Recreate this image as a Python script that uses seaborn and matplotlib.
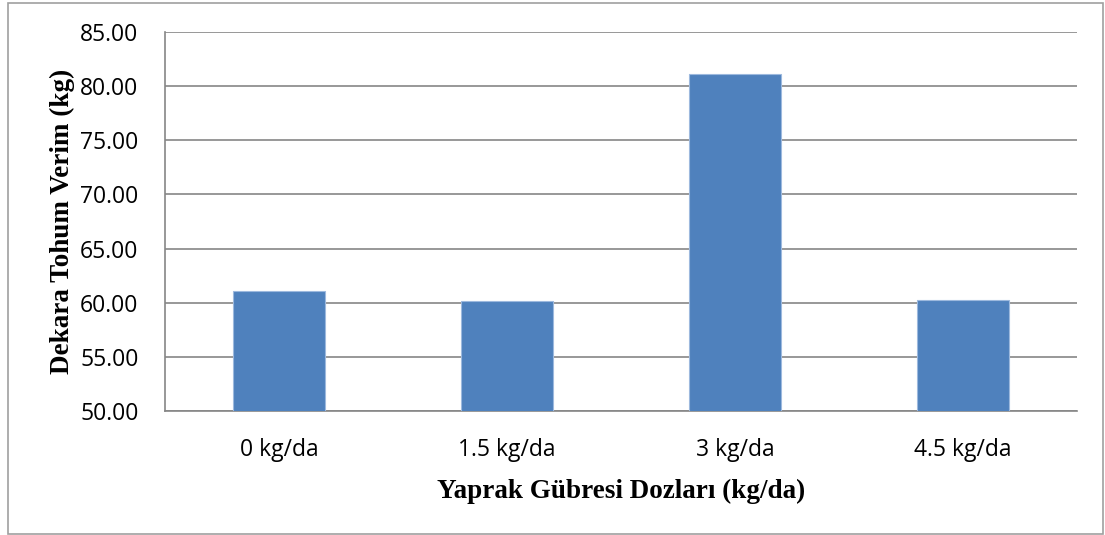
import matplotlib
matplotlib.use('Agg')
import matplotlib.pyplot as plt
import seaborn as sns
import numpy as np
from matplotlib.patches import Rectangle

# Values
doses = ['0 kg/da', '1.5 kg/da', '3 kg/da', '4.5 kg/da']
yields = [61.05, 60.13, 81.08, 60.22]
y_ticks = [50, 55, 60, 65, 70, 75, 80, 85]

sns.set_style('white')
plt.rcParams['font.family'] = ['Open Sans', 'DejaVu Sans']
plt.rcParams['text.color'] = 'black'
plt.rcParams['xtick.labelcolor'] = 'black'
plt.rcParams['ytick.labelcolor'] = 'black'

fig = plt.figure(figsize=(11.05, 5.35), dpi=100)
ax = fig.add_axes([165 / 1105, 1 - 411 / 535, (1077 - 165) / 1105, (411 - 32) / 535])

sns.barplot(x=doses, y=yields, color='#4F81BD', saturation=1, width=0.4,
            edgecolor='#9DB9DE', linewidth=0.8, ax=ax, zorder=3)

grid_c = '#868686'
ax.set_ylim(50, 85)
ax.set_xlim(-0.5, len(doses) - 0.5)
ax.set_yticks(y_ticks)
ax.set_yticklabels([f'{v:.2f}' for v in y_ticks])
ax.yaxis.grid(True, color=grid_c, linewidth=1.2, zorder=0)
ax.set_axisbelow(True)

# category separators as tick marks on the x axis
ax.set_xticks(np.arange(len(doses)))
ax.set_xticks(np.arange(len(doses) + 1) - 0.5, minor=True)
ax.tick_params(axis='x', which='major', length=0, pad=19.5, labelsize=16.5)
ax.tick_params(axis='x', which='minor', length=7, width=1.2, color=grid_c, direction='out')
ax.tick_params(axis='y', length=7, width=1.2, color=grid_c, direction='out',
               labelsize=16.5, pad=12)

for s in ['top', 'right']:
    ax.spines[s].set_visible(False)
for s in ['left', 'bottom']:
    ax.spines[s].set_color(grid_c)
    ax.spines[s].set_linewidth(1.2)

ax.set_xlabel('Yaprak Gübresi Dozları (kg/da)', family='Liberation Serif',
              fontweight='bold', fontsize=19.5, labelpad=12, color='black')
ax.set_ylabel('Dekara Tohum Verim (kg)', family='Liberation Serif',
              fontweight='bold', fontsize=19.5, labelpad=4, color='black')

fig.patches.append(Rectangle((8 / 1105, 1 / 535), 1095 / 1105, 531 / 535,
                             transform=fig.transFigure, fill=False,
                             edgecolor='#a0a0a0', linewidth=1.2))

fig.savefig('out.png', dpi=100)
